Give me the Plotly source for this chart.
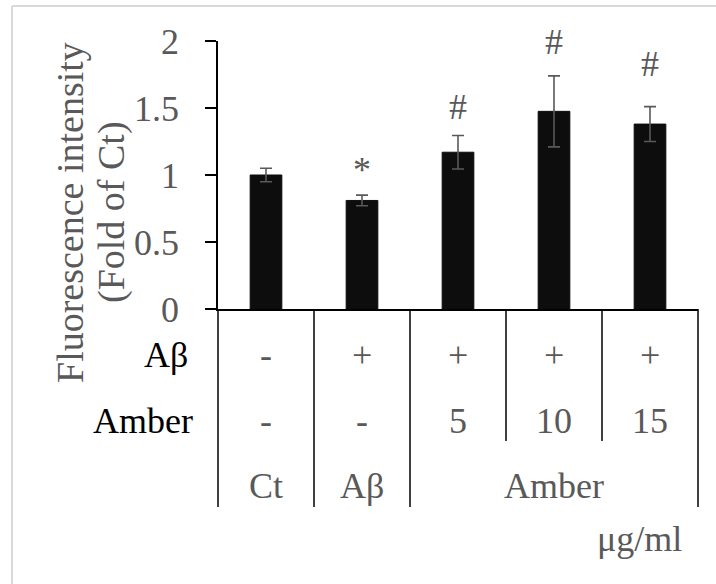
import plotly.graph_objects as go

# ---- data ----
categories = ["Ct", "Aβ", "Amber 5", "Amber 10", "Amber 15"]
values = [1.00, 0.81, 1.17, 1.475, 1.38]
errors = [0.05, 0.04, 0.125, 0.265, 0.13]
sig_marks = ["", "*", "#", "#", "#"]
sig_y = [None, 1.04, 1.51, 1.993, 1.826]
row_abeta = ["-", "+", "+", "+", "+"]
row_amber = ["-", "-", "5", "10", "15"]
groups = [("Ct", 0, 0), ("Aβ", 1, 1), ("Amber", 2, 4)]
y_ticks = [0, 0.5, 1, 1.5, 2]
unit_label = "μg/ml"

# ---- layout geometry (pixels) ----
W, H = 716, 584
L, R, T, B = 218, 18, 41, 275
PW, PH = W - L - R, H - T - B
FONT = "Liberation Serif, Times New Roman, serif"
GRAY = "#595959"
FS = 36
FS_TITLE = 38


def px(xp):
    return (xp - L) / PW


def py(yp):
    return (H - B - yp) / PH


n = len(categories)
xs = list(range(n))

fig = go.Figure()
fig.add_trace(go.Bar(
    x=xs, y=values,
    marker=dict(color="#0d0d0d", line=dict(color="#0d0d0d", width=1)),
    error_y=dict(type="data", array=errors, visible=True,
                 color=GRAY, thickness=1.6, width=6),
    width=0.33,
    hoverinfo="skip",
))

annotations = []
for i, (m, yy) in enumerate(zip(sig_marks, sig_y)):
    if m:
        annotations.append(dict(x=i, y=yy, xref="x", yref="y", text=m,
                                showarrow=False, yanchor="middle",
                                font=dict(family=FONT, size=FS, color=GRAY)))

# table rows
row1_y, row2_y, row3_y, unit_y = py(355), py(421), py(486), py(539)
for i in range(n):
    annotations.append(dict(x=i, y=row1_y, xref="x", yref="paper", text=row_abeta[i],
                            showarrow=False, yanchor="middle",
                            font=dict(family=FONT, size=FS, color=GRAY)))
    annotations.append(dict(x=i, y=row2_y, xref="x", yref="paper", text=row_amber[i],
                            showarrow=False, yanchor="middle",
                            font=dict(family=FONT, size=FS, color=GRAY)))
for name, a, b in groups:
    annotations.append(dict(x=(a + b) / 2, y=row3_y, xref="x", yref="paper", text=name,
                            showarrow=False, yanchor="middle",
                            font=dict(family=FONT, size=FS, color=GRAY)))

# row headers
annotations.append(dict(x=px(190), y=row1_y, xref="paper", yref="paper", text="Aβ",
                        showarrow=False, xanchor="right", yanchor="middle",
                        font=dict(family=FONT, size=FS, color="black")))
annotations.append(dict(x=px(195), y=row2_y, xref="paper", yref="paper", text="Amber",
                        showarrow=False, xanchor="right", yanchor="middle",
                        font=dict(family=FONT, size=FS, color="black")))
annotations.append(dict(x=px(684), y=unit_y, xref="paper", yref="paper", text=unit_label,
                        showarrow=False, xanchor="right", yanchor="middle",
                        font=dict(family=FONT, size=FS, color=GRAY)))

# y title (two lines)
annotations.append(dict(x=px(70), y=py(213), xref="paper", yref="paper",
                        text="Fluorescence intensity", textangle=-90,
                        showarrow=False, xanchor="center", yanchor="middle",
                        font=dict(family=FONT, size=FS_TITLE, color=GRAY)))
annotations.append(dict(x=px(111), y=py(212), xref="paper", yref="paper",
                        text="(Fold of Ct)", textangle=-90,
                        showarrow=False, xanchor="center", yanchor="middle",
                        font=dict(family=FONT, size=FS_TITLE, color=GRAY)))

shapes = []
# outer frame (only top and left edges fall inside the picture)
shapes.append(dict(type="line", xref="paper", yref="paper",
                   x0=px(12), x1=px(W + 5), y0=py(6), y1=py(6),
                   line=dict(color="#d9d9d9", width=2), layer="below"))
shapes.append(dict(type="line", xref="paper", yref="paper",
                   x0=px(12), x1=px(12), y0=py(6), y1=py(H + 5),
                   line=dict(color="#d9d9d9", width=2), layer="below"))
# x axis extension to the left (tick length)
shapes.append(dict(type="line", xref="paper", yref="paper",
                   x0=px(207), x1=0, y0=0, y1=0,
                   line=dict(color="black", width=1.5)))
# vertical dividers of the table
long_end, short_end = py(507), py(441)
group_bounds = set()
for name, a, b in groups:
    group_bounds.add(a - 0.5)
    group_bounds.add(b + 0.5)
for k in range(n + 1):
    bnd = k - 0.5
    xpaper = k / n
    end = long_end if bnd in group_bounds else short_end
    shapes.append(dict(type="line", xref="paper", yref="paper",
                       x0=xpaper, x1=xpaper, y0=0, y1=end,
                       line=dict(color="black", width=1.5)))

fig.update_layout(
    width=W, height=H,
    margin=dict(l=L, r=R, t=T, b=B),
    paper_bgcolor="white", plot_bgcolor="white",
    showlegend=False,
    annotations=annotations,
    shapes=shapes,
    font=dict(family=FONT, size=FS, color=GRAY),
)
fig.update_xaxes(range=[-0.5, n - 0.5], showticklabels=False, ticks="",
                 showgrid=False, zeroline=False, showline=True,
                 linecolor="black", linewidth=1.5, fixedrange=True)
fig.update_yaxes(range=[0, 2], tickvals=y_ticks, ticktext=[f"{v:g}" for v in y_ticks],
                 ticks="outside", ticklen=11, tickcolor="black", tickwidth=1.5,
                 showline=True, linecolor="black", linewidth=1.5,
                 showgrid=False, zeroline=False, ticklabelstandoff=19,
                 tickfont=dict(family=FONT, size=FS, color=GRAY), fixedrange=True)

fig.write_html("out.html", config={"displayModeBar": False},
               post_script="document.body.style.margin='0';document.body.style.overflow='hidden';")
